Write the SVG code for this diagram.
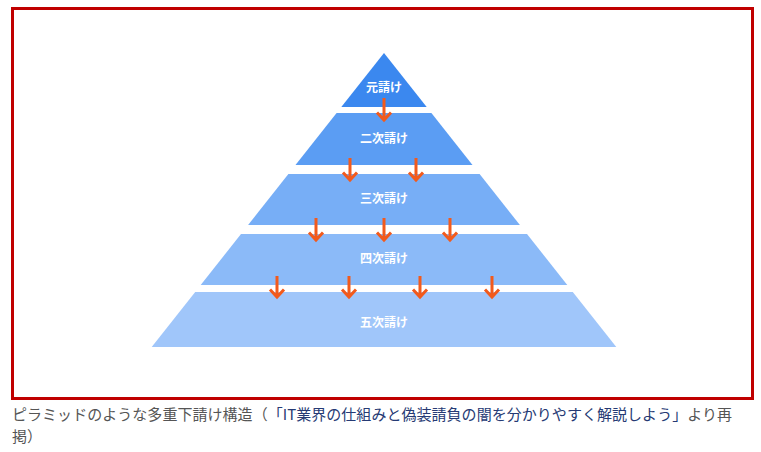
<svg xmlns="http://www.w3.org/2000/svg" width="761" height="452" viewBox="0 0 761 452">
<style>
.lbl{font-family:"Noto Sans CJK JP","Noto Sans",sans-serif;font-size:12px;font-weight:bold;fill:#ffffff;text-anchor:middle}
.arr{fill:none;stroke:#f25a1c;stroke-width:3;stroke-linejoin:miter}
.cap{font-family:"Noto Sans CJK JP","Noto Sans",sans-serif;font-size:15px;fill:#555555;text-spacing-trim:space-all}
.link{fill:#263a74}
</style>
<rect x="0" y="0" width="761" height="452" fill="#ffffff"/>
<rect x="12.5" y="8.5" width="740" height="390" fill="#ffffff" stroke="#c00000" stroke-width="3"/>
<g id="tier1">
<polygon points="384,53 426.7,107 341.3,107" fill="#3b88ef"/>
<text class="lbl" x="384" y="92">元請け</text>
</g>
<g id="tier2">
<polygon points="336.6,113 431.4,113 472.5,165 295.5,165" fill="#5b9df3"/>
<text class="lbl" x="384" y="143">二次請け</text>
</g>
<g id="tier3">
<polygon points="288.4,174 479.6,174 519.9,225 248.1,225" fill="#77aef6"/>
<text class="lbl" x="384" y="203">三次請け</text>
</g>
<g id="tier4">
<polygon points="241,234 527,234 567.3,285 200.7,285" fill="#8bbaf8"/>
<text class="lbl" x="384" y="263">四次請け</text>
</g>
<g id="tier5">
<polygon points="195.2,292 572.8,292 616.3,347 151.7,347" fill="#a0c6fa"/>
<text class="lbl" x="384" y="327">五次請け</text>
</g>
<g id="connectors">
<path class="arr" d="M384,98 V120 M377,112.5 L384,120 L391,112.5"/>
<path class="arr" d="M350,158 V180 M343,172.5 L350,180 L357,172.5"/>
<path class="arr" d="M416,158 V180 M409,172.5 L416,180 L423,172.5"/>
<path class="arr" d="M316,218 V240 M309,232.5 L316,240 L323,232.5"/>
<path class="arr" d="M384,218 V240 M377,232.5 L384,240 L391,232.5"/>
<path class="arr" d="M450,218 V240 M443,232.5 L450,240 L457,232.5"/>
<path class="arr" d="M277,276 V297 M270,289.5 L277,297 L284,289.5"/>
<path class="arr" d="M349,276 V297 M342,289.5 L349,297 L356,289.5"/>
<path class="arr" d="M420,276 V297 M413,289.5 L420,297 L427,289.5"/>
<path class="arr" d="M492,276 V297 M485,289.5 L492,297 L499,289.5"/>
</g>
<g id="caption">
<text class="cap" x="12" y="420" textLength="720" lengthAdjust="spacing">ピラミッドのような多重下請け構造（<tspan class="link">「IT業界の仕組みと偽装請負の闇を分かりやすく解説しよう」</tspan>より再</text>
<text class="cap" x="12" y="442">掲）</text>
</g>
</svg>
